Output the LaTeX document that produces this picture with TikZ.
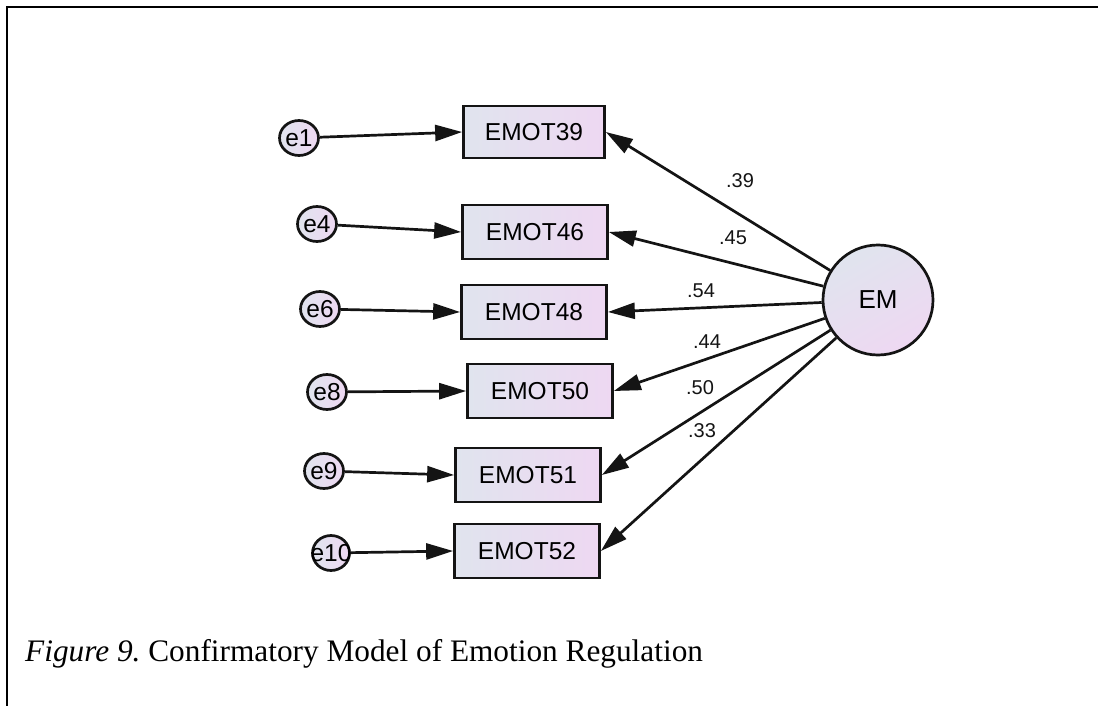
\documentclass[tikz,border=0pt]{standalone}
\usepackage{fontspec}
\setmainfont{Liberation Serif}
\newfontfamily\arialf{Liberation Sans}
\usetikzlibrary{arrows.meta,shapes.geometric}
\definecolor{fillL}{RGB}{224,228,238}
\definecolor{fillR}{RGB}{238,216,242}
\definecolor{inkc}{RGB}{20,20,20}
\tikzset{
  obsbox/.style={draw=inkc, line width=2.7pt, rectangle, minimum width=141pt, minimum height=52pt, inner sep=0pt,
    left color=fillL, right color=fillR, font=\arialf\fontsize{24.5}{27}\selectfont},
  errnode/.style={draw=inkc, line width=2.7pt, ellipse, minimum width=39pt, minimum height=35pt, inner sep=0pt,
    left color=fillL, right color=fillR, font=\arialf\fontsize{24.5}{26}\selectfont},
  latnode/.style={draw=inkc, line width=2.7pt, circle, minimum size=110pt, inner sep=0pt,
    shading=axis, top color=fillL, bottom color=fillR, shading angle=30, font=\arialf\fontsize{26}{28}\selectfont},
  path/.style={draw=inkc, line width=2.7pt, -{Triangle[length=27pt,width=16pt]}},
  ldg/.style={font=\arialf\fontsize{20}{22}\selectfont, text=inkc},
  frame/.style={draw=black, line width=2.4pt}
}
\begin{document}
\begin{tikzpicture}[x=1pt,y=-1pt]
\useasboundingbox (0,0) rectangle (1098,706);
\draw[frame] (7,706) -- (7,7) -- (1098,7);

\node[latnode] (EM) at (878,300) {EM};

\node[obsbox] (b1) at (534,132) {EMOT39};
\node[obsbox, minimum width=145pt, minimum height=54pt] (b2) at (535,232) {EMOT46};
\node[obsbox, minimum width=145pt, minimum height=54pt] (b3) at (534,312) {EMOT48};
\node[obsbox, minimum width=145pt, minimum height=54pt] (b4) at (540,391) {EMOT50};
\node[obsbox, minimum width=145pt, minimum height=54pt] (b5) at (528,475) {EMOT51};
\node[obsbox, minimum width=145pt, minimum height=54pt] (b6) at (527,551) {EMOT52};

\node[errnode] (e1) at (299,138) {e1};
\node[errnode] (e4) at (317,224) {e4};
\node[errnode] (e6) at (320,309) {e6};
\node[errnode] (e8) at (327,392) {e8};
\node[errnode] (e9) at (324,471) {e9};
\node[errnode, minimum width=37pt] (e10) at (331,553) {\kern-8pt e10\kern-8pt};

\draw[path] (e1) -- (b1.west);
\draw[path] (e4) -- (b2.west);
\draw[path] (e6) -- (b3.west);
\draw[path] (e8) -- (b4.west);
\draw[path] (e9) -- (b5.west);
\draw[path] (e10) -- (b6.west);

\draw[path] (EM) -- (b1.east);
\draw[path] (EM) -- (b2.east);
\draw[path] (EM) -- (b3.east);
\draw[path] (EM) -- (b4.east);
\draw[path] (EM) -- (b5.east);
\draw[path] (EM) -- (b6.east);

\node[ldg] (l1) at (740,181) {.39};
\node[ldg] (l2) at (733,238) {.45};
\node[ldg] (l3) at (701,291) {.54};
\node[ldg] (l4) at (707,342) {.44};
\node[ldg] (l5) at (700,388) {.50};
\node[ldg] (l6) at (702,431) {.33};

\node[anchor=base west, font=\fontsize{31.3}{35}\selectfont, inner sep=0pt] (cap) at (25,661)
  {\textit{Figure 9.}\ Confirmatory Model of Emotion Regulation};
\end{tikzpicture}
\end{document}
